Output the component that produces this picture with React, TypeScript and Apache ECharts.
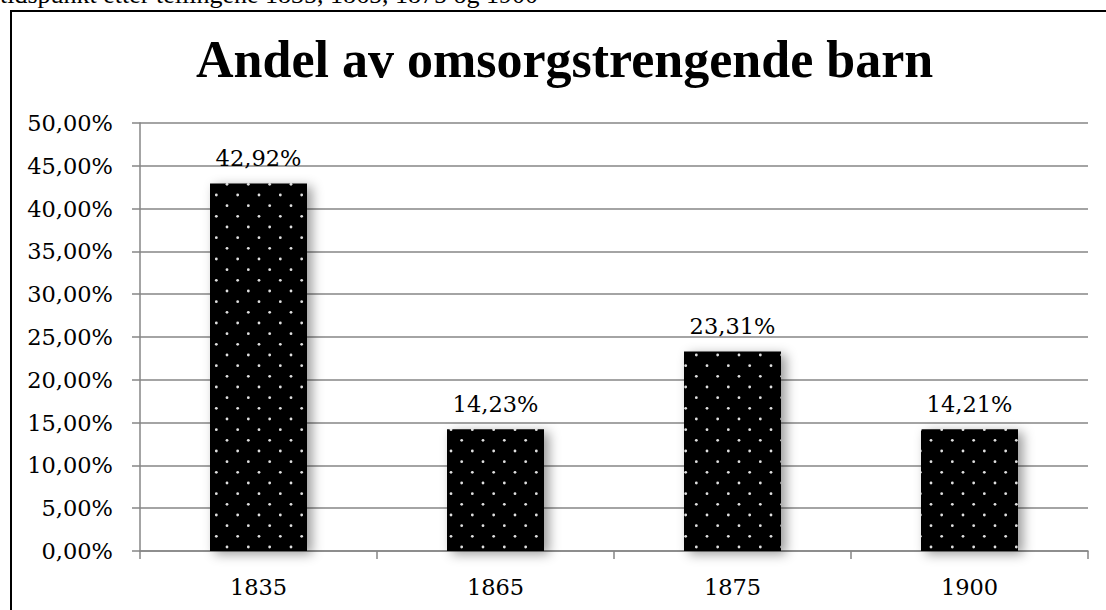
import React, { useEffect, useRef } from "react";
import * as echarts from "echarts";

const categories: string[] = ["1835", "1865", "1875", "1900"];
const values: number[] = [42.92, 14.23, 23.31, 14.21];
const titleText = "Andel av omsorgstrengende barn";
const topText = "tidspunkt etter tellingene 1835, 1865, 1875 og 1900";
const yMin = 0;
const yMax = 50;
const yInterval = 5;

const fmt = (v: number) => v.toFixed(2).replace(".", ",") + "%";

function makePattern(): string {
  const c = document.createElement("canvas");
  const s = 64;
  c.width = s;
  c.height = s;
  const ctx = c.getContext("2d")!;
  ctx.fillStyle = "#000";
  ctx.fillRect(0, 0, s, s);
  const step = s / 3;
  ctx.fillStyle = "#e0e0e0";
  for (let i = 0; i < 3; i++) {
    for (let j = 0; j < 3; j++) {
      const pts = [
        [i * step + 3, j * step + 3],
        [i * step + 3 + step / 2, j * step + 3 + step / 2],
      ];
      for (const [x, y] of pts) {
        ctx.beginPath();
        ctx.arc(x, y, 1.4, 0, Math.PI * 2);
        ctx.fill();
      }
    }
  }
  return c.toDataURL();
}

export default function App() {
  const ref = useRef<HTMLDivElement>(null);
  useEffect(() => {
    document.body.style.margin = "0";
    const chart = echarts.init(ref.current!, null, { renderer: "svg" });
    const pattern = makePattern();
    const font = "DejaVu Serif";
    const lsize = 22.5;
    chart.setOption({
      animation: false,
      backgroundColor: "#fff",
      title: {
        text: titleText,
        left: 191,
        top: 28,
        textStyle: {
          fontFamily: "Liberation Serif",
          fontWeight: "bold",
          fontSize: 52,
          color: "#000",
        },
      },
      graphic: [
        {
          type: "rect",
          shape: { x: 11, y: 11, width: 1200, height: 700 },
          style: { fill: "none", stroke: "#000", lineWidth: 2 },
          silent: true,
        },
        {
          type: "text",
          x: 0,
          y: -19,
          style: {
            text: topText,
            fontFamily: "Liberation Serif",
            fontSize: 26,
            fill: "#000",
            textAlign: "left",
            textVerticalAlign: "top",
          },
          silent: true,
        },
      ],
      grid: { left: 140, right: 18, top: 123, bottom: 59 },
      xAxis: {
        type: "category",
        data: categories,
        axisLine: { lineStyle: { color: "#868686", width: 1.5 } },
        axisTick: { show: true, length: 8, lineStyle: { color: "#868686", width: 1.5 } },
        axisLabel: { fontFamily: font, fontSize: lsize, color: "#000", margin: 24 },
      },
      yAxis: {
        type: "value",
        min: yMin,
        max: yMax,
        interval: yInterval,
        axisLine: { show: true, lineStyle: { color: "#868686", width: 1.5 } },
        axisTick: { show: true, length: 8, lineStyle: { color: "#868686", width: 1.5 } },
        splitLine: { lineStyle: { color: "#868686", width: 1.5 } },
        axisLabel: {
          fontFamily: font,
          fontSize: lsize,
          color: "#000",
          margin: 27,
          formatter: (v: number) => fmt(v),
        },
      },
      series: [
        {
          type: "bar",
          data: values,
          barWidth: 97,
          itemStyle: {
            color: { image: pattern, repeat: "repeat", imageWidth: 64, imageHeight: 64 } as any,
            shadowColor: "rgba(0,0,0,0.4)",
            shadowBlur: 12,
            shadowOffsetX: 5,
            shadowOffsetY: 3,
          },
          label: {
            show: true,
            position: "top",
            distance: 14,
            fontFamily: font,
            fontSize: lsize,
            color: "#000",
            formatter: (p: any) => fmt(p.value),
          },
        },
      ],
    });
    return () => chart.dispose();
  }, []);
  return <div ref={ref} style={{ width: 1106, height: 610 }} />;
}
